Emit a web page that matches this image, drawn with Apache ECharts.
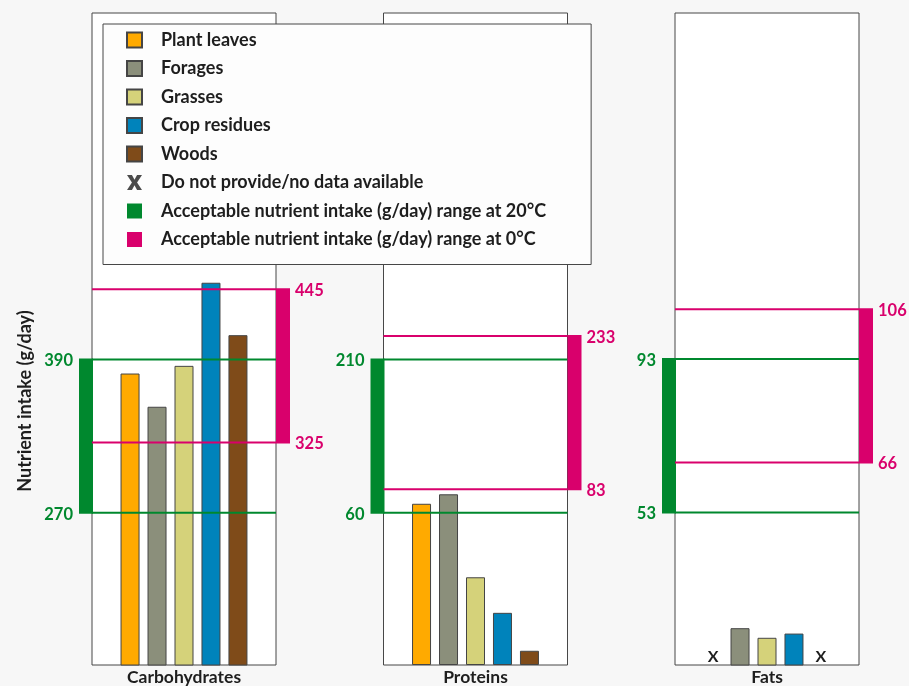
<!DOCTYPE html>
<html>
<head>
<meta charset="utf-8">
<script src="https://cdn.jsdelivr.net/npm/echarts@6/dist/echarts.min.js"></script>
<style>
  html, body { margin: 0; padding: 0; background: #f7f7f7; }
  #chart { width: 909px; height: 686px; }
</style>
</head>
<body>
<div id="chart"></div>
<script>
// Nutrient panels and feed types
const nutrients = ['Carbohydrates', 'Proteins', 'Fats'];
const feeds = ['Plant leaves', 'Forages', 'Grasses', 'Crop residues', 'Woods'];

// Nutrient supplied by each feed type (g/day); null = not provided / no data
const carbohydrates = [379, 353, 385, 450, 409];
const proteins = [68, 72, 37, 22, 6];
const fats = [null, 22.8, 20.3, 21.4, null];

// Acceptable intake ranges (g/day): [low, high] per nutrient
const range20C = [[270, 390], [60, 210], [53, 93]];
const range0C = [[325, 445], [83, 233], [66, 106]];

const noDataLabel = 'Do not provide/no data available';
const range20Name = 'Acceptable nutrient intake (g/day) range at 20°C';
const range0Name = 'Acceptable nutrient intake (g/day) range at 0°C';

// Styling
const FONT = 'Lato';
const feedColors = ['#ffaa00', '#8b8f7b', '#d5d27a', '#0083bb', '#7f4b19'];
const GREEN = '#00882e';
const MAGENTA = '#d9006c';
const INK = '#1e1e1e';

// Panel boxes and their value scales
const panelLeft = [92, 383.5, 675];
const PANEL_TOP = 13, PANEL_W = 184, PANEL_H = 655;
const rangeAxis = [[151, 661], [-89, 549], [13.2, 183.3]];
const proteinBarAxis = [0, 275];

const seriesValues = [carbohydrates, proteins, fats];
// y axis index used by the bars of each panel, and by the range marks
const barYAxis = [0, 2, 3];
const rangeYAxis = [0, 1, 3];

const grids = panelLeft.map(l => ({
  left: l, top: PANEL_TOP, width: PANEL_W, height: PANEL_H,
  show: true, backgroundColor: '#ffffff', borderColor: '#474747', borderWidth: 1
}));

const xAxes = nutrients.map((n, i) => ({
  type: 'category', gridIndex: i, data: [n],
  axisLine: { show: false }, axisTick: { show: false },
  axisLabel: { show: true, margin: 3, color: INK, fontFamily: FONT, fontWeight: 'bold', fontSize: 17.5 }
}));

const yAxes = [
  { type: 'value', gridIndex: 0, min: rangeAxis[0][0], max: rangeAxis[0][1], show: false },
  { type: 'value', gridIndex: 1, min: rangeAxis[1][0], max: rangeAxis[1][1], show: false },
  { type: 'value', gridIndex: 1, min: proteinBarAxis[0], max: proteinBarAxis[1], show: false },
  { type: 'value', gridIndex: 2, min: rangeAxis[2][0], max: rangeAxis[2][1], show: false }
];

const series = [];

// Bars: one series per feed type in each panel
nutrients.forEach((n, p) => {
  feeds.forEach((f, k) => {
    const v = seriesValues[p][k];
    const s = {
      type: 'bar', name: f, xAxisIndex: p, yAxisIndex: barYAxis[p],
      data: [v], barWidth: 19, barGap: '42%', z: 2,
      itemStyle: { color: feedColors[k], borderColor: '#454545', borderWidth: 1 },
      emphasis: { disabled: true }
    };
    if (v === null) {
      // "X" marker where the feed provides nothing / has no data
      s.markPoint = {
        silent: true, symbol: 'rect', symbolSize: 1,
        itemStyle: { color: 'rgba(0,0,0,0)' },
        label: { show: true, position: 'top', distance: 0, formatter: 'X',
                 color: INK, fontFamily: FONT, fontWeight: 'bold', fontSize: 16 },
        data: [{ coord: [n, rangeAxis[p][0]] }]
      };
    }
    series.push(s);
  });
});

// Range marks: horizontal limits across the panel, a thick side bar and value labels
function rangeRenderer(side) {
  return function (params, api) {
    const cs = params.coordSys;
    const lo = api.value(1), hi = api.value(2);
    const yHi = api.coord([0, hi])[1];
    const yLo = api.coord([0, lo])[1];
    const color = api.visual('color');
    const left = cs.x, right = cs.x + cs.width;
    const barX = side === 'left' ? left - 13 : right;
    const textX = side === 'left' ? left - 19 : right + 19;
    const align = side === 'left' ? 'right' : 'left';
    const font = 'bold 16.5px ' + FONT;
    return {
      type: 'group',
      children: [
        { type: 'rect', shape: { x: barX, y: yHi - 1, width: 14, height: yLo - yHi + 2 }, style: { fill: color } },
        { type: 'line', shape: { x1: left, y1: yHi, x2: right, y2: yHi }, style: { stroke: color, lineWidth: 2 } },
        { type: 'line', shape: { x1: left, y1: yLo, x2: right, y2: yLo }, style: { stroke: color, lineWidth: 2 } },
        { type: 'text', x: textX, y: yHi + 1.5, style: { text: String(hi), fill: color, font: font, align: align, verticalAlign: 'middle' } },
        { type: 'text', x: textX, y: yLo + 1.5, style: { text: String(lo), fill: color, font: font, align: align, verticalAlign: 'middle' } }
      ]
    };
  };
}

nutrients.forEach((n, p) => {
  series.push({
    type: 'custom', name: range20Name, xAxisIndex: p, yAxisIndex: rangeYAxis[p],
    renderItem: rangeRenderer('left'), clip: false, silent: true, z: 5,
    itemStyle: { color: GREEN },
    encode: { x: 0, y: [1, 2] },
    data: [[0, range20C[p][0], range20C[p][1]]]
  });
  series.push({
    type: 'custom', name: range0Name, xAxisIndex: p, yAxisIndex: rangeYAxis[p],
    renderItem: rangeRenderer('right'), clip: false, silent: true, z: 5,
    itemStyle: { color: MAGENTA },
    encode: { x: 0, y: [1, 2] },
    data: [[0, range0C[p][0], range0C[p][1]]]
  });
});

// Legend-only entry for the "X" marker
series.push({ type: 'scatter', name: noDataLabel, xAxisIndex: 2, yAxisIndex: 3, data: [], itemStyle: { color: INK } });

// Bold "X" glyph for the legend
const X_ICON = 'path://M0,0 L3.3,0 L5,3.1 L6.7,0 L10,0 L6.7,5 L10,10 L6.7,10 L5,6.9 L3.3,10 L0,10 L3.3,5 Z';

const option = {
  backgroundColor: '#f7f7f7',
  animation: false,
  grid: grids,
  xAxis: xAxes,
  yAxis: yAxes,
  legend: {
    orient: 'vertical', left: 103, top: 24,
    padding: [7, 45, 16, 23],
    itemGap: 10.5, itemWidth: 15, itemHeight: 15,
    backgroundColor: '#fdfdfd', borderColor: '#474747', borderWidth: 1, borderRadius: 0,
    selectedMode: false, icon: 'rect',
    textStyle: { fontFamily: FONT, fontWeight: 'bold', fontSize: 18, color: INK, padding: [0, 0, 0, 14], lineHeight: 18 },
    data: feeds.map(f => ({ name: f }))
      .concat([{ name: noDataLabel, icon: X_ICON, itemStyle: { borderWidth: 0, color: INK } },
               { name: range20Name, itemStyle: { borderWidth: 0 } },
               { name: range0Name, itemStyle: { borderWidth: 0 } }])
  },
  graphic: [{
    type: 'text', x: 25, y: 401, rotation: Math.PI / 2,
    style: { text: 'Nutrient intake (g/day)', fill: INK, font: 'bold 18px ' + FONT, align: 'center', verticalAlign: 'middle' }
  }],
  series: series
};

const chart = echarts.init(document.getElementById('chart'), null, { renderer: 'canvas' });
chart.setOption(option);
</script>
</body>
</html>
